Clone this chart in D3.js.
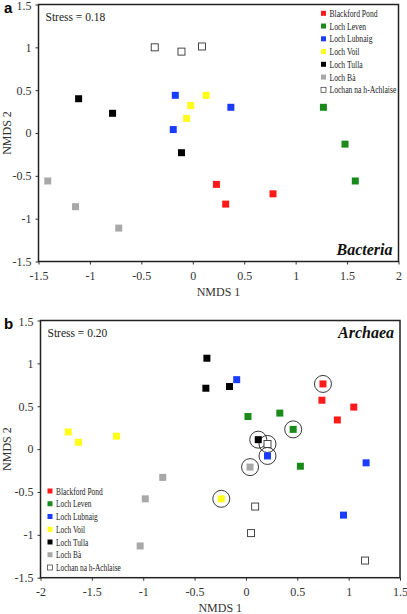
<!DOCTYPE html>
<html><head><meta charset="utf-8">
<script src="https://cdn.jsdelivr.net/npm/d3@7"></script>
<style>body{margin:0;background:#fff}svg{display:block}</style>
</head><body>
<script>
const groups = ["Blackford Pond","Loch Leven","Loch Lubnaig","Loch Voil","Loch Tulla","Loch Bà","Lochan na h-Achlaise"];
const colors = ["#ff1a1a","#1a8a1a","#1a3cff","#ffff1a","#000000","#a8a8a8","#ffffff"];

// Panel a (Bacteria)
const bacX = [0.23,0.32,0.78, 1.27,1.48,1.58, -0.17,0.37,-0.19, 0.13,-0.02,-0.06, -1.11,-0.78,-0.11, -1.41,-1.14,-0.72, -0.37,-0.11,0.09];
const bacY = [-0.60,-0.83,-0.71, 0.30,-0.13,-0.56, 0.44,0.30,0.04, 0.44,0.32,0.17, 0.40,0.23,-0.23, -0.56,-0.86,-1.11, 1.00,0.95,1.01];
const bacG = [0,0,0, 1,1,1, 2,2,2, 3,3,3, 4,4,4, 5,5,5, 6,6,6];

// Panel b (Archaea)
const arcX = [0.75,0.74,1.05,0.89, 0.02,0.33,0.46,0.53, -0.09,0.21,1.17,0.95, -1.73,-1.63,-1.26,-0.24, -0.38,-0.39,-0.16,0.12, 0.04,-0.81,-0.98,-1.03, 0.21,0.09,0.05,1.16];
const arcY = [0.76,0.57,0.49,0.34, 0.38,0.42,0.23,-0.20, 0.81,-0.08,-0.16,-0.77, 0.20,0.08,0.15,-0.58, 1.06,0.71,0.73,0.11, -0.21,-0.33,-0.58,-1.13, 0.06,-0.67,-0.98,-1.30];
const arcG = [0,0,0,0, 1,1,1,1, 2,2,2,2, 3,3,3,3, 4,4,4,4, 5,5,5,5, 6,6,6,6];
const arcCircled = [1,0,0,0, 0,0,1,0, 0,1,0,0, 0,0,0,1, 0,0,0,1, 1,0,0,0, 1,0,0,0];

const xTicksA = [-1.5,-1,-0.5,0,0.5,1,1.5,2];
const xTicksB = [-2,-1.5,-1,-0.5,0,0.5,1,1.5];
const yTicks = [-1.5,-1,-0.5,0,0.5,1,1.5];

const SERIF = '"Liberation Serif","Times New Roman",Times,"DejaVu Serif",serif';
const W = 407, H = 614;
const svg = d3.select("body").append("svg").attr("width", W).attr("height", H)
  .attr("font-family", SERIF);

function txt(sel) { return sel.attr("font-family", SERIF).style("font-family", SERIF); }

function panel(cfg) {
  const x = d3.scaleLinear().domain(cfg.xDomain).range([cfg.left, cfg.right]);
  const y = d3.scaleLinear().domain([-1.5, 1.5]).range([cfg.bottom, cfg.top]);
  const g = svg.append("g");
  const fmt = d => String(d);
  const xa = g.append("g").attr("transform", `translate(0,${cfg.bottom})`)
    .call(d3.axisBottom(x).tickValues(cfg.xTicks).tickFormat(fmt).tickSize(3).tickPadding(4).tickSizeOuter(0));
  const ya = g.append("g").attr("transform", `translate(${cfg.left},0)`)
    .call(d3.axisLeft(y).tickValues(yTicks).tickFormat(fmt).tickSize(3).tickPadding(4).tickSizeOuter(0));
  [xa, ya].forEach(a => {
    a.attr("font-family", SERIF);
    a.select(".domain").remove();
    a.selectAll("line").attr("stroke", "#333");
    txt(a.selectAll("text")).attr("font-size", 12).attr("fill", "#333");
  });
  xa.selectAll("text").attr("dy", "0.95em");
  // keep the topmost y label inside the page
  ya.selectAll(".tick").filter(d => d === 1.5).select("text").attr("dy", "0.45em");
  g.append("rect").attr("x", cfg.left).attr("y", cfg.top)
    .attr("width", cfg.right - cfg.left).attr("height", cfg.bottom - cfg.top)
    .attr("fill", "none").attr("stroke", "#222").attr("stroke-width", 1.5);

  const pts = cfg.xs.map((v, i) => ({x: v, y: cfg.ys[i], g: cfg.gs[i], c: cfg.circ ? cfg.circ[i] : 0}));
  g.selectAll("circle.ring").data(pts.filter(d => d.c)).enter().append("circle")
    .attr("cx", d => x(d.x)).attr("cy", d => y(d.y)).attr("r", 8.5)
    .attr("fill", "none").attr("stroke", "#222").attr("stroke-width", 0.9);
  const s = 7;
  g.selectAll("rect.pt").data(pts).enter().append("rect")
    .attr("x", d => x(d.x) - s / 2).attr("y", d => y(d.y) - s / 2)
    .attr("width", s).attr("height", s)
    .attr("fill", d => colors[d.g])
    .attr("stroke", d => d.g === 6 ? "#333" : "none").attr("stroke-width", 0.9);

  svg.append("text").attr("x", 4).attr("y", cfg.top + 8).text(cfg.letter)
    .attr("font-size", 15).attr("font-weight", "bold")
    .attr("font-family", '"Liberation Sans",Arial,sans-serif').style("font-family", '"Liberation Sans",Arial,sans-serif');
  txt(svg.append("text")).attr("x", cfg.left + 7).attr("y", cfg.top + 16).text(cfg.stress)
    .attr("font-size", 11.5).attr("fill", "#222");
  txt(svg.append("text")).attr("x", cfg.right - 6).attr("y", cfg.taxonY).text(cfg.taxon)
    .attr("text-anchor", "end").attr("font-size", 16).attr("font-weight", "bold").attr("font-style", "italic").attr("fill", "#111");
  txt(svg.append("text")).attr("x", (cfg.left + cfg.right) / 2).attr("y", cfg.bottom + 34).text("NMDS 1")
    .attr("text-anchor", "middle").attr("font-size", 12).attr("fill", "#333");
  txt(svg.append("text")).attr("transform", `translate(11,${(cfg.top + cfg.bottom) / 2}) rotate(-90)`)
    .text("NMDS 2").attr("text-anchor", "middle").attr("font-size", 12).attr("fill", "#333");

  const lg = svg.append("g").attr("transform", `translate(${cfg.legX},${cfg.legY})`);
  const labels = [];
  groups.forEach((name, i) => {
    const row = lg.append("g").attr("transform", `translate(0,${i * 12.75})`);
    row.append("rect").attr("x", -2.5).attr("y", -2.5).attr("width", 5).attr("height", 5)
      .attr("fill", colors[i]).attr("stroke", i === 6 ? "#333" : "none").attr("stroke-width", 0.7);
    const t = txt(row.append("text")).attr("x", 0).attr("y", 3.5).text(name).attr("font-size", 10).attr("fill", "#222");
    labels.push(t);
  });
  const longest = labels[6].node().getComputedTextLength();
  const k = Math.min(1, cfg.legW / longest);
  labels.forEach(t => t.attr("transform", `translate(6,0) scale(${k},1)`));
}

panel({xDomain: [-1.5, 2], xTicks: xTicksA, left: 38.5, right: 398.5, top: 4.5, bottom: 261.5,
  xs: bacX, ys: bacY, gs: bacG, letter: "a", stress: "Stress = 0.18", taxon: "Bacteria", taxonY: 255,
  legX: 323.5, legY: 13.3, legW: 67});
panel({xDomain: [-2, 1.5], xTicks: xTicksB, left: 40.5, right: 400, top: 320.5, bottom: 577.7,
  xs: arcX, ys: arcY, gs: arcG, circ: arcCircled, letter: "b", stress: "Stress = 0.20", taxon: "Archaea", taxonY: 338,
  legX: 50, legY: 491, legW: 65});
</script>
</body></html>
